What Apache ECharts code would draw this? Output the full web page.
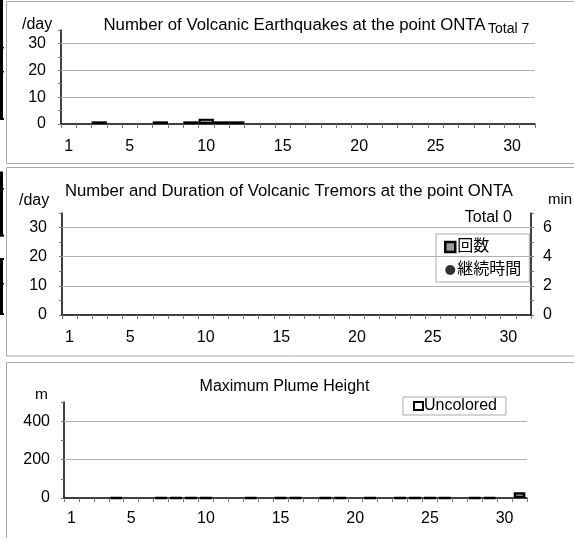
<!DOCTYPE html>
<html><head><meta charset="utf-8">
<script src="https://cdn.jsdelivr.net/npm/echarts@6/dist/echarts.min.js"></script>
<style>html,body{margin:0;padding:0;background:#fff}#c{width:574px;height:538px}</style>
</head><body><div id="c"></div>
<script>
// ---- data ----
const days = ['1','2','3','4','5','6','7','8','9','10','11','12','13','14','15','16','17','18','19','20','21','22','23','24','25','26','27','28','29','30','31'];
// Volcanic earthquakes per day (Total 7)
const quakeCounts = [null,null,1,null,null,null,1,null,1,2,1,1,null,null,null,null,null,null,null,null,null,null,null,null,null,null,null,null,null,null,null];
// Volcanic tremors (Total 0)
const tremorCounts = [null,null,null,null,null,null,null,null,null,null,null,null,null,null,null,null,null,null,null,null,null,null,null,null,null,null,null,null,null,null,null];
const tremorDuration = [null,null,null,null,null,null,null,null,null,null,null,null,null,null,null,null,null,null,null,null,null,null,null,null,null,null,null,null,null,null,null];
// Maximum plume height (m), null = no observation
const plumeHeights = [null,null,null,0,null,null,0,0,0,0,null,null,0,null,0,0,null,0,0,null,0,null,0,0,0,0,null,0,0,null,30];
const dayGridLines = [10,20,30];
const plumeGridLines = [200,400];
const titles = ['Number of Volcanic Earthquakes at the point ONTA','Number and Duration of Volcanic Tremors at the point ONTA','Maximum Plume Height'];
const totals = ['Total 7','Total 0'];

const FONT = "'Liberation Sans', Arial, 'Noto Sans CJK JP', sans-serif";
const chart = echarts.init(document.getElementById('c'), null, {renderer:'canvas'});

function xAx(gi, margin){
  return {type:'category', gridIndex:gi, data:days, boundaryGap:true,
    axisLine:{lineStyle:{color:'#000', width:1.5}},
    axisTick:{show:true, interval:0, length:4, lineStyle:{color:'#777'}},
    axisLabel:{interval:function(i){return i===0 || (i+1)%5===0;}, color:'#000', fontSize:16, fontFamily:FONT, margin:margin},
    splitLine:{show:false}};
}
function yAx(gi, max, interval, labelEvery, pos, margin){
  return {type:'value', gridIndex:gi, min:0, max:max, interval:interval, position:pos||'left',
    axisLine:{show:true, lineStyle:{color:'#000', width:1.5}},
    axisTick:{show:true, length:3, lineStyle:{color:'#777'}},
    axisLabel:{color:'#000', fontSize:16, fontFamily:FONT, margin:margin,
      formatter:function(v){return (v % labelEvery === 0) ? String(v) : '';}},
    splitLine:{show:false}};
}
function gridMark(vals){
  return {silent:true, symbol:'none', label:{show:false}, animation:false,
    lineStyle:{color:'#b0b0b0', type:'solid', width:1},
    data:vals.map(function(v){return {yAxis:v};})};
}

function txt(x,y,s,size,align){
  return {type:'text', x:x, y:y, silent:true,
    style:{text:s, fill:'#000', font:size+'px '+FONT, textAlign:align||'left', textVerticalAlign:'middle'}};
}

const graphics = [
  // panel frames
  {type:'rect', shape:{x:6.5,y:1.5,width:600,height:162}, style:{fill:null, stroke:'#aaa', lineWidth:1}, silent:true},
  {type:'rect', shape:{x:6.5,y:167.5,width:600,height:188.5}, style:{fill:null, stroke:'#aaa', lineWidth:1}, silent:true},
  {type:'rect', shape:{x:6.5,y:362.5,width:600,height:200}, style:{fill:null, stroke:'#aaa', lineWidth:1}, silent:true},
  // cropped black brackets at the left edge
  {type:'rect', shape:{x:0,y:0,width:3,height:120}, style:{fill:'#000'}, silent:true},
  {type:'rect', shape:{x:0,y:47,width:4,height:1.5}, style:{fill:'#000'}, silent:true},
  {type:'rect', shape:{x:0,y:71,width:4,height:1.5}, style:{fill:'#000'}, silent:true},
  {type:'rect', shape:{x:0,y:118,width:4,height:2}, style:{fill:'#000'}, silent:true},
  {type:'rect', shape:{x:0,y:171.5,width:3,height:65}, style:{fill:'#000'}, silent:true},
  {type:'rect', shape:{x:0,y:188,width:4,height:1.5}, style:{fill:'#000'}, silent:true},
  {type:'rect', shape:{x:0,y:234.5,width:4,height:2}, style:{fill:'#000'}, silent:true},
  {type:'rect', shape:{x:0,y:258,width:3,height:57}, style:{fill:'#000'}, silent:true},
  {type:'rect', shape:{x:0,y:258,width:4,height:2}, style:{fill:'#000'}, silent:true},
  {type:'rect', shape:{x:0,y:283,width:4,height:1.5}, style:{fill:'#000'}, silent:true},
  {type:'rect', shape:{x:0,y:313,width:4,height:2}, style:{fill:'#000'}, silent:true},
  // texts
  txt(294.5,25,titles[0],16.8,'center'),
  txt(488,29,totals[0],14,'left'),
  txt(22,25,'/day',16,'left'),
  txt(289,191,titles[1],16.7,'center'),
  txt(512,218,totals[1],16,'right'),
  txt(19,201,'/day',16,'left'),
  txt(548,200,'min',15,'left'),
  txt(284.5,387,titles[2],16,'center'),
  txt(35,395,'m',15.5,'left')
];

const option = {
  animation:false,
  backgroundColor:'#fff',
  textStyle:{fontFamily:FONT},
  grid:[
    {left:61, right:39, top:30, height:94},
    {left:62, right:43, top:213, height:102},
    {left:64, right:47, top:402, height:96}
  ],
  xAxis:[xAx(0,15), xAx(1,15), xAx(2,13)],
  yAxis:[
    yAx(0,35,5,10,'left',15),
    yAx(1,35,5,10,'left',15),
    yAx(1,7,1,2,'right',12),
    yAx(2,500,100,200,'left',14)
  ],
  legend:[
    {orient:'vertical', left:436, top:234, padding:[5,8,4,8], itemGap:7, itemWidth:10, itemHeight:10,
     backgroundColor:'#fff', borderColor:'#aaa', borderWidth:1, borderRadius:0,
     textStyle:{fontSize:16, color:'#000', fontFamily:FONT, padding:[0,0,0,-3]},
     data:[
       {name:'回数', icon:'rect', itemStyle:{color:'#999', borderColor:'#000', borderWidth:2.5}},
       {name:'継続時間', icon:'circle', itemStyle:{color:'#000', borderWidth:0}}
     ]},
    {orient:'horizontal', left:403, top:397, padding:[1,9,1,10], itemWidth:9, itemHeight:8,
     backgroundColor:'#fff', borderColor:'#aaa', borderWidth:1, borderRadius:0,
     textStyle:{fontSize:16, color:'#000', fontFamily:FONT, padding:[0,0,0,-4]},
     data:[{name:'Uncolored', icon:'rect', itemStyle:{color:'#fff', borderColor:'#000', borderWidth:2}}]}
  ],
  graphic:graphics,
  series:[
    {name:'地震回数', type:'bar', xAxisIndex:0, yAxisIndex:0, data:quakeCounts, barCategoryGap:'0%',
     itemStyle:{color:'#8c8c8c', borderColor:'#000', borderWidth:2}, markLine:gridMark(dayGridLines)},
    {name:'回数', type:'bar', xAxisIndex:1, yAxisIndex:1, data:tremorCounts, barCategoryGap:'0%',
     itemStyle:{color:'#8c8c8c', borderColor:'#000', borderWidth:2}, markLine:gridMark(dayGridLines)},
    {name:'継続時間', type:'scatter', xAxisIndex:1, yAxisIndex:2, data:tremorDuration, symbol:'circle', symbolSize:8,
     itemStyle:{color:'#000'}},
    {name:'Uncolored', type:'bar', xAxisIndex:2, yAxisIndex:3, data:plumeHeights, barCategoryGap:'22%',
     itemStyle:{color:'#fff', borderColor:'#000', borderWidth:2.5}, markLine:gridMark(plumeGridLines)}
  ]
};
chart.setOption(option);
</script>
</body></html>
